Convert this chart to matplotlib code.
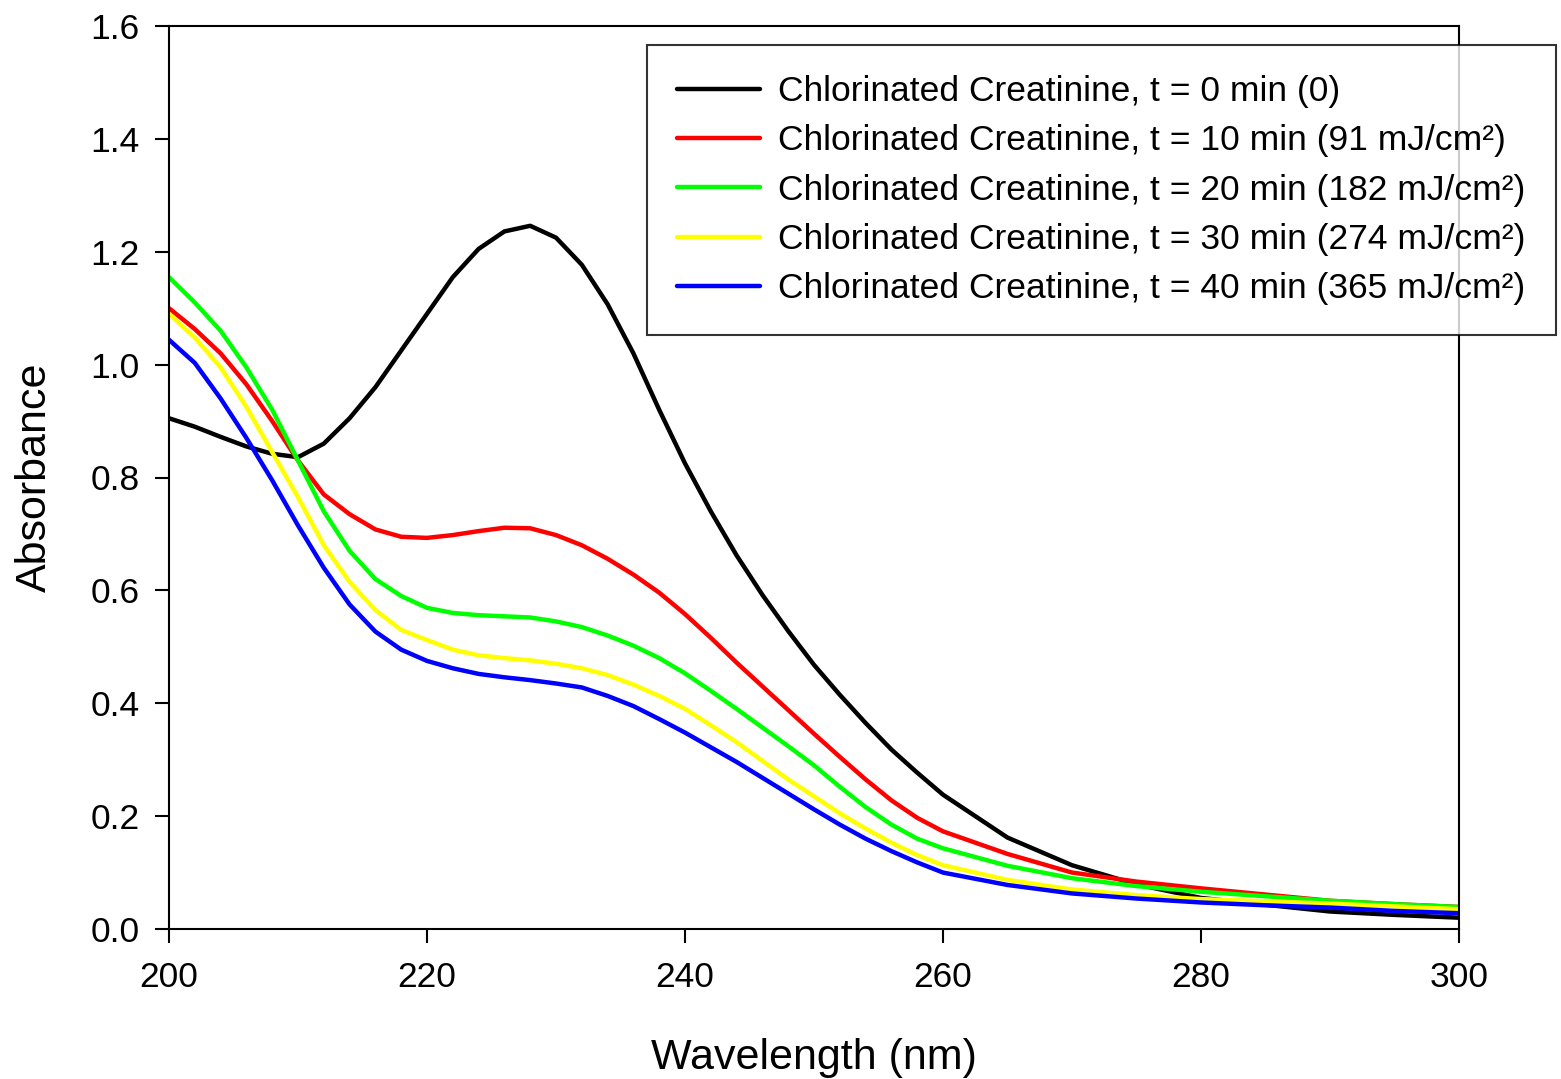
import matplotlib
matplotlib.use("Agg")
import matplotlib.pyplot as plt

plt.rcParams['font.family'] = ['Liberation Sans', 'DejaVu Sans']

wavelength = [200, 202, 204, 206, 208, 210, 212, 214, 216, 218, 220, 222, 224, 226, 228,
              230, 232, 234, 236, 238, 240, 242, 244, 246, 248, 250, 252, 254, 256, 258,
              260, 265, 270, 275, 280, 285, 290, 295, 300]

abs_t0 = [0.905, 0.890, 0.872, 0.855, 0.842, 0.836, 0.860, 0.905, 0.960, 1.025, 1.090,
          1.155, 1.205, 1.236, 1.246, 1.225, 1.177, 1.107, 1.020, 0.920, 0.825, 0.740,
          0.662, 0.592, 0.528, 0.468, 0.415, 0.365, 0.318, 0.277, 0.238, 0.162, 0.113,
          0.079, 0.055, 0.043, 0.031, 0.025, 0.020]
abs_t10 = [1.100, 1.063, 1.020, 0.965, 0.900, 0.830, 0.770, 0.735, 0.708, 0.695, 0.693,
           0.698, 0.705, 0.711, 0.710, 0.698, 0.680, 0.656, 0.628, 0.596, 0.558, 0.516,
           0.472, 0.430, 0.388, 0.346, 0.305, 0.265, 0.228, 0.197, 0.173, 0.133, 0.100,
           0.084, 0.072, 0.061, 0.050, 0.044, 0.039]
abs_t20 = [1.155, 1.110, 1.060, 0.995, 0.920, 0.830, 0.740, 0.670, 0.620, 0.590, 0.569,
           0.560, 0.556, 0.554, 0.552, 0.545, 0.535, 0.520, 0.502, 0.480, 0.453, 0.422,
           0.390, 0.357, 0.324, 0.290, 0.252, 0.216, 0.185, 0.160, 0.143, 0.112, 0.090,
           0.076, 0.066, 0.058, 0.050, 0.044, 0.039]
abs_t30 = [1.090, 1.048, 0.995, 0.925, 0.845, 0.765, 0.680, 0.615, 0.565, 0.530, 0.512,
           0.495, 0.485, 0.480, 0.476, 0.470, 0.462, 0.450, 0.433, 0.413, 0.390, 0.361,
           0.331, 0.298, 0.265, 0.235, 0.205, 0.178, 0.153, 0.131, 0.113, 0.087, 0.070,
           0.060, 0.053, 0.049, 0.045, 0.040, 0.035]
abs_t40 = [1.044, 1.003, 0.940, 0.870, 0.795, 0.715, 0.640, 0.575, 0.527, 0.495, 0.475,
           0.462, 0.452, 0.446, 0.441, 0.435, 0.428, 0.413, 0.395, 0.372, 0.348, 0.322,
           0.296, 0.268, 0.240, 0.212, 0.185, 0.160, 0.138, 0.118, 0.100, 0.078, 0.063,
           0.054, 0.047, 0.042, 0.038, 0.032, 0.028]

series = [abs_t0, abs_t10, abs_t20, abs_t30, abs_t40]
labels = ["Chlorinated Creatinine, t = 0 min (0)",
          "Chlorinated Creatinine, t = 10 min (91 mJ/cm²)",
          "Chlorinated Creatinine, t = 20 min (182 mJ/cm²)",
          "Chlorinated Creatinine, t = 30 min (274 mJ/cm²)",
          "Chlorinated Creatinine, t = 40 min (365 mJ/cm²)"]
colors = ["#000000", "#ff0000", "#00ff00", "#ffff00", "#0000ff"]

xticks = [200, 220, 240, 260, 280, 300]
yticks = [0.0, 0.2, 0.4, 0.6, 0.8, 1.0, 1.2, 1.4, 1.6]

fig = plt.figure(figsize=(15.61, 10.79), dpi=100)
ax = fig.add_axes([169/1561, 1-929/1079, 1290/1561, 903/1079])

for y, lab, c in zip(series, labels, colors):
    ax.plot(wavelength, y, color=c, lw=3.2, label=lab,
            solid_joinstyle='round', solid_capstyle='round')

ax.set_xlim(200, 300)
ax.set_ylim(0, 1.6)
ax.set_xticks(xticks)
ax.set_yticks(yticks)
ax.set_yticklabels([f"{v:.1f}" for v in yticks])
ax.tick_params(direction='out', length=10, width=1.5, labelsize=25.5)
ax.tick_params(axis='x', pad=13)
ax.tick_params(axis='y', pad=11)
for s in ax.spines.values():
    s.set_linewidth(1.5)

ax.set_xlabel("Wavelength (nm)", fontsize=31, labelpad=32)
ax.set_ylabel("Absorbance", fontsize=31, labelpad=26)

leg = fig.legend(loc='upper left', bbox_to_anchor=(647/1561, 1-45/1079),
                 fontsize=25.5, frameon=True, fancybox=False, edgecolor='black',
                 handlelength=2.33, handletextpad=0.53, borderpad=0.85,
                 labelspacing=0.46, borderaxespad=0)
leg.get_frame().set_linewidth(1.5)
for h in leg.get_lines():
    h.set_linewidth(3.2)

fig.savefig("out.png", dpi=100)
